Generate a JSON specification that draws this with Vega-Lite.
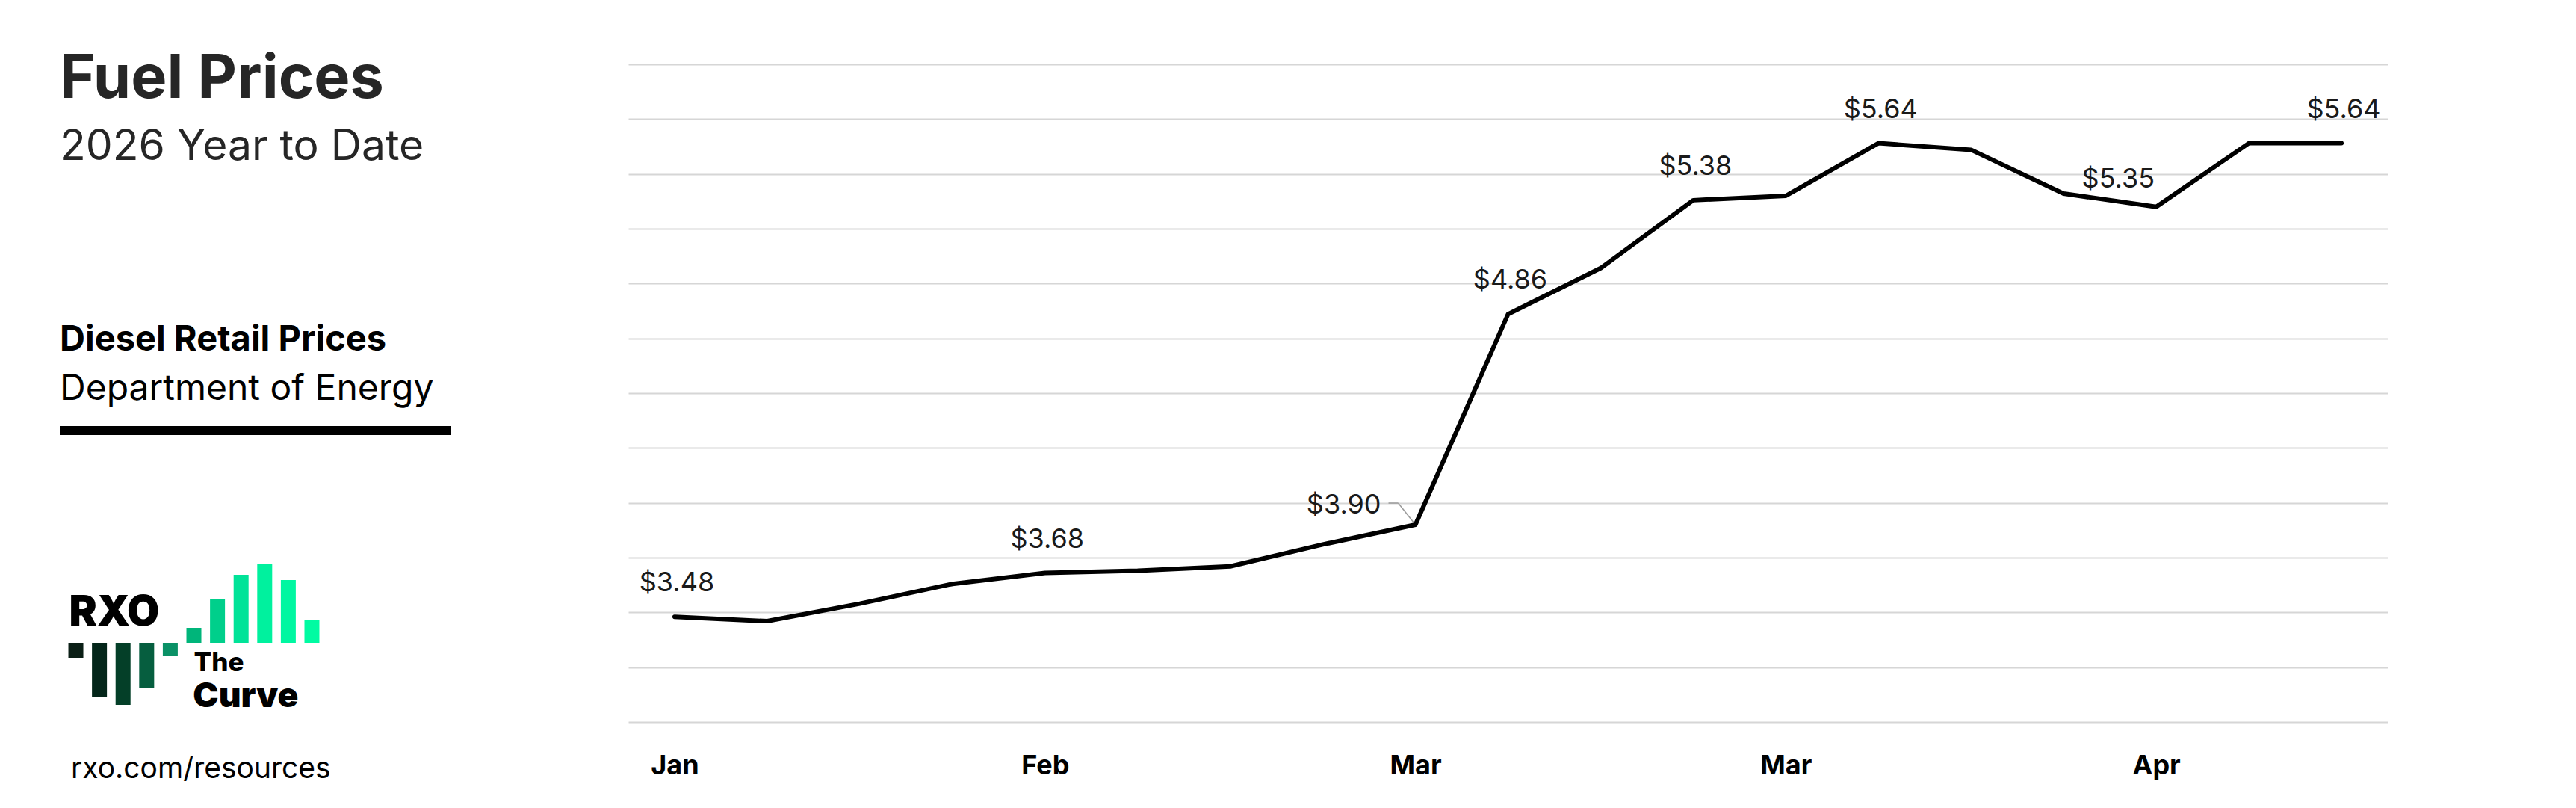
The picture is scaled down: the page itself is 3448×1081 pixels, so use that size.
{
  "$schema": "https://vega.github.io/schema/vega-lite/v6.json",
  "background": "white",
  "padding": {"left": 80, "top": 66, "right": 0, "bottom": 0},
  "config": {
    "view": {"stroke": null},
    "font": "Inter",
    "axis": {"labelFont": "Inter", "titleFont": "Inter"},
    "text": {"font": "Inter"}
  },
  "spacing": 237,
  "hconcat": [
    {
      "spacing": 170,
      "vconcat": [
        {
          "title": {
            "text": "Fuel Prices",
            "subtitle": "2026 Year to Date",
            "orient": "bottom",
            "anchor": "start",
            "font": "Inter",
            "fontSize": 81,
            "fontWeight": 700,
            "color": "#262626",
            "subtitleFont": "Inter",
            "subtitleFontSize": 57,
            "subtitleFontWeight": 400,
            "subtitleColor": "#262626",
            "subtitlePadding": 21,
            "offset": -194
          },
          "width": 524,
          "height": 194,
          "data": {"values": [{}]},
          "mark": {"type": "rect", "opacity": 0},
          "encoding": {
            "x": {"datum": 0, "type": "quantitative", "scale": {"domain": [0, 1], "nice": false}, "axis": null},
            "x2": {"datum": 1},
            "y": {"datum": 0, "type": "quantitative", "scale": {"domain": [0, 1], "nice": false}, "axis": null},
            "y2": {"datum": 1}
          }
        },
        {
          "title": {
            "text": "Diesel Retail Prices",
            "subtitle": "Department of Energy",
            "anchor": "start",
            "font": "Inter",
            "fontSize": 47,
            "fontWeight": 700,
            "color": "#000000",
            "subtitleFont": "Inter",
            "subtitleFontSize": 48,
            "subtitleFontWeight": 400,
            "subtitleColor": "#000000",
            "subtitlePadding": 18,
            "offset": 24
          },
          "width": 524,
          "height": 12,
          "data": {"values": [{}]},
          "mark": {"type": "rect", "color": "#000000"},
          "encoding": {
            "x": {"datum": 0, "type": "quantitative", "scale": {"domain": [0, 1], "nice": false}, "axis": null},
            "x2": {"datum": 1},
            "y": {"datum": 0, "type": "quantitative", "scale": {"domain": [0, 1], "nice": false}, "axis": null},
            "y2": {"datum": 1}
          }
        },
        {
          "title": {
            "text": "rxo.com/resources",
            "orient": "bottom",
            "anchor": "start",
            "font": "Inter",
            "fontSize": 39,
            "fontWeight": 400,
            "color": "#000000",
            "dx": 15,
            "offset": 55
          },
          "width": 360,
          "height": 194,
          "data": {"values": [
            {"i": 0, "h": -20}, {"i": 1, "h": -72}, {"i": 2, "h": -83}, {"i": 3, "h": -60}, {"i": 4, "h": -18},
            {"i": 5, "h": 20}, {"i": 6, "h": 58}, {"i": 7, "h": 91}, {"i": 8, "h": 106}, {"i": 9, "h": 84}, {"i": 10, "h": 30}
          ]},
          "layer": [
            {
              "mark": {"type": "bar", "width": 20},
              "encoding": {
                "x": {"field": "i", "type": "quantitative", "scale": {"domain": [-0.523, 10.554], "nice": false, "zero": false}, "axis": null},
                "y": {"field": "h", "type": "quantitative", "scale": {"domain": [-86, 108], "nice": false}, "axis": null},
                "color": {"field": "i", "type": "ordinal", "legend": null,
                  "scale": {"range": ["#0b1f16", "#04261a", "#043f28", "#065e3f", "#0a9166", "#00b57a", "#00cf8b", "#00e398", "#00f19e", "#00f7a1", "#00fba2"]}}
              }
            },
            {
              "data": {"values": [{"word": "RXO"}]},
              "mark": {"type": "text", "align": "left", "baseline": "alphabetic", "fontSize": 56, "fontWeight": 900, "color": "#000000"},
              "encoding": {
                "x": {"datum": -0.286, "type": "quantitative", "axis": null},
                "y": {"datum": 23, "type": "quantitative", "axis": null},
                "text": {"field": "word"}
              }
            },
            {
              "data": {"values": [{"word": "The"}]},
              "mark": {"type": "text", "align": "left", "baseline": "alphabetic", "fontSize": 35, "fontWeight": 800, "color": "#000000"},
              "encoding": {
                "x": {"datum": 5.0, "type": "quantitative", "axis": null},
                "y": {"datum": -38, "type": "quantitative", "axis": null},
                "text": {"field": "word"}
              }
            },
            {
              "data": {"values": [{"word": "Curve"}]},
              "mark": {"type": "text", "align": "left", "baseline": "alphabetic", "fontSize": 46, "fontWeight": 900, "color": "#000000"},
              "encoding": {
                "x": {"datum": 4.96, "type": "quantitative", "axis": null},
                "y": {"datum": -86, "type": "quantitative", "axis": null},
                "text": {"field": "word"}
              }
            }
          ]
        }
      ]
    },
    {
      "width": 2355,
      "height": 899,
      "data": {"values": [
        {"date": "2026-01-05", "price": 3.48},
        {"date": "2026-01-12", "price": 3.46},
        {"date": "2026-01-19", "price": 3.54},
        {"date": "2026-01-26", "price": 3.63},
        {"date": "2026-02-02", "price": 3.68},
        {"date": "2026-02-09", "price": 3.69},
        {"date": "2026-02-16", "price": 3.71},
        {"date": "2026-02-23", "price": 3.81},
        {"date": "2026-03-02", "price": 3.90},
        {"date": "2026-03-09", "price": 4.86},
        {"date": "2026-03-16", "price": 5.07},
        {"date": "2026-03-23", "price": 5.38},
        {"date": "2026-03-30", "price": 5.40},
        {"date": "2026-04-06", "price": 5.64},
        {"date": "2026-04-13", "price": 5.61},
        {"date": "2026-04-20", "price": 5.41},
        {"date": "2026-04-27", "price": 5.35},
        {"date": "2026-05-04", "price": 5.64},
        {"date": "2026-05-11", "price": 5.64}
      ]},
      "encoding": {
        "x": {
          "field": "date", "type": "ordinal",
          "scale": {"type": "point", "padding": 0.5},
          "axis": {
            "title": null, "domain": false, "ticks": false, "tickSize": 0, "grid": false,
            "values": ["2026-01-05", "2026-02-02", "2026-03-02", "2026-03-30", "2026-04-27"],
            "labelExpr": "utcFormat(toDate(datum.value), '%b')",
            "labelAngle": 0, "labelFont": "Inter", "labelFontSize": 36, "labelFontWeight": 700, "labelColor": "#000000",
            "labelPadding": 41, "labelOverlap": false, "labelFlush": false
          }
        },
        "y": {
          "field": "price", "type": "quantitative",
          "scale": {"domain": [3, 6.0648], "nice": false, "zero": false},
          "axis": {
            "title": null, "labels": false, "ticks": false, "domain": false, "grid": true,
            "values": [3, 3.25, 3.5, 3.75, 4, 4.25, 4.5, 4.75, 5, 5.25, 5.5, 5.75, 6],
            "gridColor": "#d6d6d6", "gridWidth": 2
          }
        }
      },
      "layer": [
        {
          "transform": [{"filter": "datum.date == '2026-03-02'"}],
          "mark": {"type": "rule", "color": "#9a9a9a", "strokeWidth": 1.5, "x2Offset": -23, "y2Offset": -29},
          "encoding": {"x2": {"field": "date"}, "y2": {"field": "price"}}
        },
        {
          "transform": [{"filter": "datum.date == '2026-03-02'"}],
          "mark": {"type": "rule", "color": "#9a9a9a", "strokeWidth": 1.5, "xOffset": -23, "yOffset": -29, "x2Offset": -36, "y2Offset": -29},
          "encoding": {"x2": {"field": "date"}, "y2": {"field": "price"}}
        },
        {
          "mark": {"type": "line", "color": "#000000", "strokeWidth": 6, "strokeCap": "round", "strokeJoin": "round"}
        },
        {
          "transform": [{"filter": "indexof(['2026-01-05','2026-02-02','2026-03-09','2026-03-23','2026-04-06','2026-05-11'], datum.date) >= 0"}],
          "mark": {"type": "text", "align": "center", "baseline": "alphabetic", "dx": 3, "dy": -34, "fontSize": 36, "color": "#1a1a1a"},
          "encoding": {"text": {"field": "price", "type": "quantitative", "format": "$.2f"}}
        },
        {
          "transform": [{"filter": "datum.date == '2026-03-02'"}],
          "mark": {"type": "text", "align": "right", "baseline": "alphabetic", "dx": -46, "dy": -15, "fontSize": 36, "color": "#1a1a1a"},
          "encoding": {"text": {"field": "price", "type": "quantitative", "format": "$.2f"}}
        },
        {
          "transform": [{"filter": "datum.date == '2026-04-27'"}],
          "mark": {"type": "text", "align": "right", "baseline": "alphabetic", "dx": -2, "dy": -26, "fontSize": 36, "color": "#1a1a1a"},
          "encoding": {"text": {"field": "price", "type": "quantitative", "format": "$.2f"}}
        }
      ]
    }
  ]
}
